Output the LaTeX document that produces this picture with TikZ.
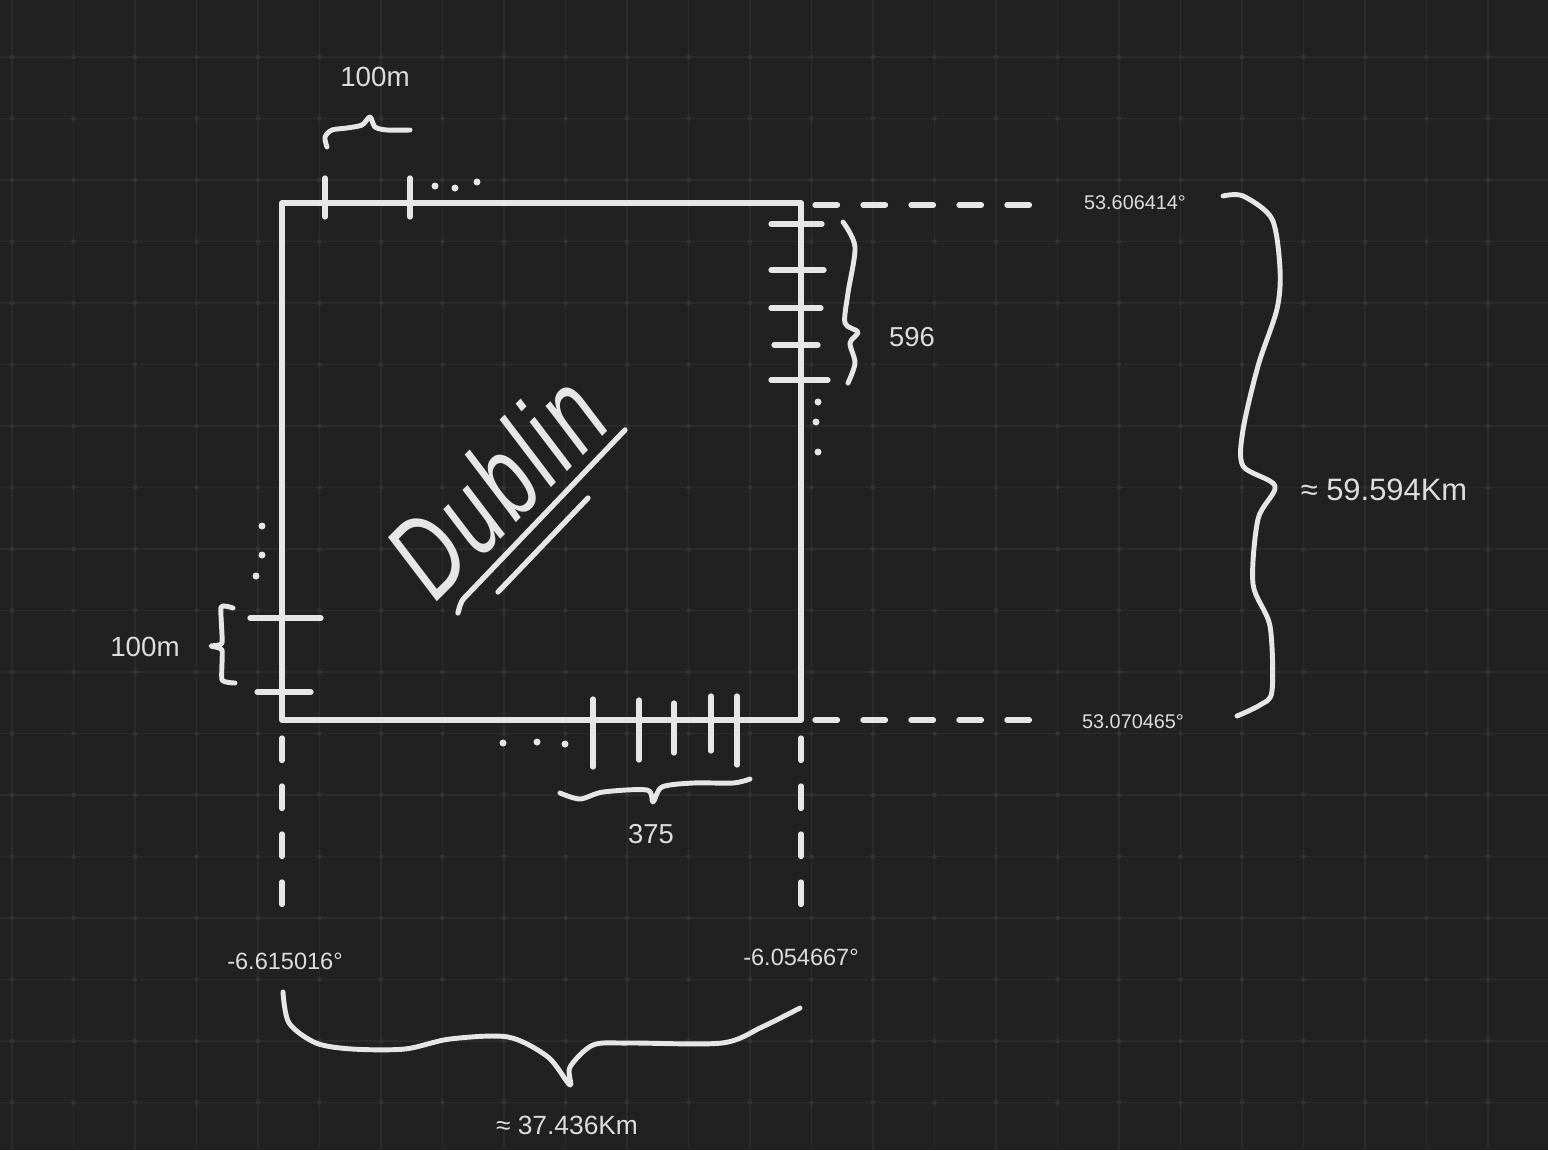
\documentclass[tikz,border=0pt]{standalone}
\usepackage{fontspec}
\setmainfont{Liberation Sans}
\newfontfamily\handfont[FakeStretch=0.7, LetterSpace=4]{Liberation Sans}
\usetikzlibrary{calc}
\definecolor{board}{HTML}{212121}
\definecolor{gridline}{HTML}{2B2B2B}
\definecolor{griddot}{HTML}{343434}
\definecolor{chalk}{HTML}{E6E6E6}
\definecolor{ink}{HTML}{DDDDDD}

\begin{document}
\begin{tikzpicture}[
x=0.02cm, y=-0.02cm,
pen/.style={draw=chalk, line width=3pt, line cap=round, line join=round},
dashline/.style={pen, dash pattern=on 0.45cm off 0.51cm},
brace/.style={pen, line width=2.8pt},
txt/.style={text=ink, inner sep=0pt},
dotmark/.style={fill=chalk}
]
\useasboundingbox (0,0) rectangle (1548,1150);
\fill[board] (0,0) rectangle (1548,1150);
\foreach \i in {0,...,24}
  \draw[gridline, line width=1.1pt] ({12+61.5*\i},0) -- ({12+61.5*\i},1150);
\foreach \j in {0,...,17}
  \draw[gridline, line width=1.1pt] (0,{57+61.5*\j}) -- (1548,{57+61.5*\j});
\foreach \i in {0,...,24}
  \foreach \j in {0,...,17}
    \fill[griddot] ({12+61.5*\i},{57+61.5*\j}) circle (0.045cm);

\coordinate (nw) at (282,203);
\coordinate (ne) at (801,203);
\coordinate (se) at (801,720);
\coordinate (sw) at (282,720);
\draw[pen] (nw) -- (ne) -- (se) -- (sw) -- cycle;

% ticks along the edges
\foreach \x in {325,410}
  \draw[pen] (\x,178) -- (\x,217);
\foreach \y/\a/\b in {224/771/822, 270/771/824, 308/771/821, 345/774/818, 380/771/828}
  \draw[pen] (\a,\y) -- (\b,\y);
\foreach \y/\a/\b in {618/250/321, 692/257/311}
  \draw[pen] (\a,\y) -- (\b,\y);
\foreach \x/\a/\b in {593/699/767, 639/700/760, 674/703/753, 711/696/751, 737/696/765}
  \draw[pen] (\x,\a) -- (\x,\b);

\foreach \p in {(435,186),(455,188),(477,182),(818,402),(816,422),(818,452),
                (262,526),(262,555),(256,576),(503,743),(537,742),(565,744)}
  \fill[dotmark] \p circle (0.07cm);

% braces
\draw[brace] plot[smooth, tension=0.5] coordinates {(327,147) (325,137) (332,130) (347,128) (362,125) (370,117) (375,127) (387,130) (410,130)};
\draw[brace] plot[smooth, tension=0.5] coordinates {(843,222) (855,247) (848,293) (845,323) (858,332) (850,343) (855,363) (848,383)};
\draw[brace] plot[smooth, tension=0.3] coordinates {(233,608) (221,607) (222,643) (211,646) (222,650) (222,680) (235,683)};
\draw[brace] plot[smooth, tension=0.5] coordinates {(560,793) (580,799) (603,792) (647,790) (653,802) (662,787) (693,783) (733,783) (750,779)};
\draw[brace] plot[smooth, tension=0.5] coordinates {(1223,196) (1243,196) (1272,219) (1280,269) (1277,309) (1258,366) (1243,430) (1243,466) (1275,486) (1258,519) (1253,584) (1270,626) (1272,691) (1260,705) (1237,716)};
\draw[brace] plot[smooth, tension=0.5] coordinates {(283,992) (289,1023) (316,1043) (352,1049) (405,1049) (450,1039) (508,1037) (548,1057) (570,1085) (570,1067) (593,1045) (629,1043) (722,1043) (762,1027) (800,1008)};

% dashed guides
\coordinate (toplat) at (1040,205);
\coordinate (botlat) at (1042,720);
\coordinate (leftlon) at (282,920);
\coordinate (rightlon) at (801,922);
\draw[dashline] ($(ne)+(14,2)$) -- (toplat);
\draw[dashline] ($(se)+(14,0)$) -- (botlat);
\draw[dashline] ($(sw)+(0,18)$) -- (leftlon);
\draw[dashline] ($(se)+(0,18)$) -- (rightlon);

\node[txt, font=\fontsize{15.8}{18}\selectfont] (topscale) at (375,77) {100m};
\node[txt, font=\fontsize{15.8}{18}\selectfont] (leftscale) at (145,647) {100m};
\node[txt, font=\fontsize{15.6}{18}\selectfont] (rightcount) at (912,337) {596};
\node[txt, font=\fontsize{15.6}{18}\selectfont] (bottomcount) at (651,834) {375};
\node[txt, font=\fontsize{11.3}{13}\selectfont] (northlat) at (1135,203) {53.606414°};
\node[txt, font=\fontsize{11.3}{13}\selectfont] (southlat) at (1133,722) {53.070465°};
\node[txt, font=\fontsize{13.4}{15}\selectfont] (westlon) at (285,961) {-6.615016°};
\node[txt, font=\fontsize{13.4}{15}\selectfont] (eastlon) at (801,957) {-6.054667°};
\node[txt, font=\fontsize{17.6}{20}\selectfont] (height) at (1384,490) {≈ 59.594Km};
\node[txt, font=\fontsize{15}{18}\selectfont] (width) at (567,1125) {≈ 37.436Km};

\node[txt, text=chalk, rotate=45, font=\handfont\itshape\fontsize{66}{66}\selectfont] (city) at (496,485) {Dublin};
\draw[pen] (458,613) .. controls (461,601) .. (470,592) -- (625,430);
\draw[pen] (498,592) -- (588,498);
\end{tikzpicture}
\end{document}
